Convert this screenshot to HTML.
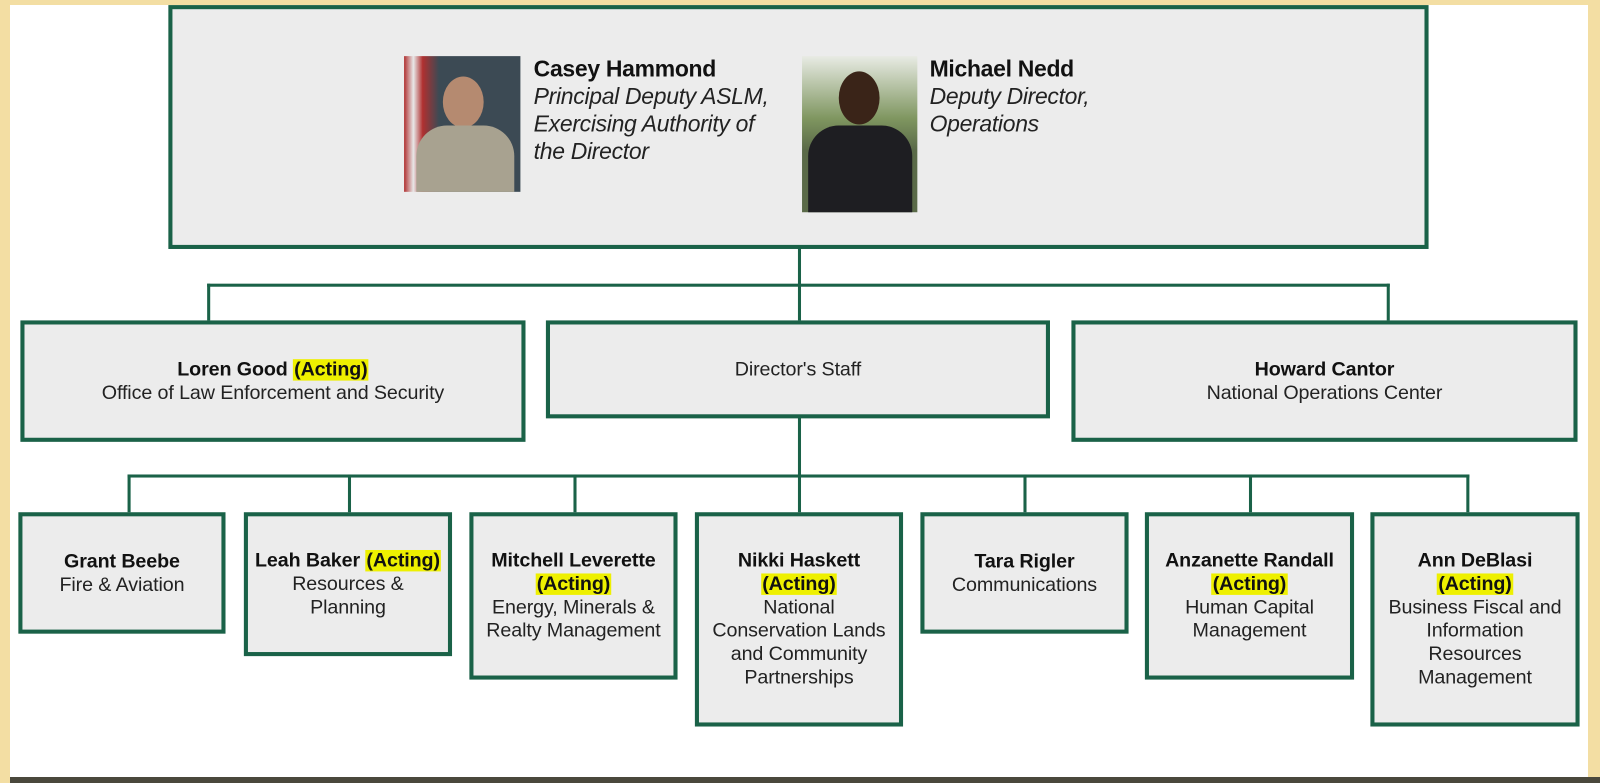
<!DOCTYPE html>
<html><head><meta charset="utf-8"><style>
*{margin:0;padding:0;box-sizing:border-box}
body{width:1600px;height:783px;background:#f3dea3;position:relative;overflow:hidden;font-family:"Liberation Sans",sans-serif;}
#w{position:absolute;left:10px;top:5px;width:1578px;height:772px;background:#fff}
#bar{position:absolute;left:10px;top:777px;width:1590px;height:6px;background:#4a483c}
#c{position:absolute;left:0;top:0;width:1568px;height:767px;transform:scale(1.0204);transform-origin:0 0}
.b{position:absolute;background:#ececec;border:4px solid #1a6248;display:flex;flex-direction:column;align-items:center;justify-content:center;text-align:center;font-size:19.3px;line-height:23px;color:#222;letter-spacing:-0.1px}
.b b{font-weight:bold;color:#111}
.h{background:#eef000;padding:0 1px}
.l{position:absolute;background:#1a6248}
.ph{position:absolute}
.t{position:absolute;font-size:22.5px;line-height:27px;color:#222;letter-spacing:-0.3px}
.t b{color:#111}
.t i{display:block}
</style></head><body>
<div id="w"></div><div id="bar"></div>
<div id="c">
<div class="b" style="left:165px;top:5px;width:1235px;height:239px"></div>
<div class="ph" style="left:396px;top:55px;width:114px;height:133px;background:linear-gradient(90deg,#b03030 0,#e8e8e8 8%,#b03030 16%,#3c4a54 30%,#3c4a54 100%)">
<div style="position:absolute;left:38px;top:20px;width:40px;height:50px;border-radius:50%;background:#b58a70"></div>
<div style="position:absolute;left:12px;top:68px;width:96px;height:65px;border-radius:30px 30px 0 0;background:#a8a290"></div></div>
<div class="ph" style="left:786px;top:55px;width:113px;height:153px;background:linear-gradient(180deg,#e8ebe4 0,#7f9660 40%,#5a6a48 60%)">
<div style="position:absolute;left:36px;top:15px;width:40px;height:52px;border-radius:50%;background:#3a2418"></div>
<div style="position:absolute;left:6px;top:68px;width:102px;height:85px;border-radius:30px 30px 0 0;background:#1e1e22"></div></div>
<div class="t" style="left:523px;top:54px"><b>Casey Hammond</b><i>Principal Deputy ASLM,</i><i>Exercising Authority of</i><i>the Director</i></div>
<div class="t" style="left:911px;top:54px"><b>Michael Nedd</b><i>Deputy Director,</i><i>Operations</i></div>

<div class="l" style="left:782px;top:243px;width:3px;height:72px"></div>
<div class="l" style="left:203px;top:278px;width:1159px;height:3px"></div>
<div class="l" style="left:203px;top:278px;width:3px;height:37px"></div>
<div class="l" style="left:1359px;top:278px;width:3px;height:37px"></div>

<div class="b" style="left:20px;top:314px;width:495px;height:119px"><div><b>Loren Good <span class="h">(Acting)</span></b></div><div>Office of Law Enforcement and Security</div></div>
<div class="b" style="left:535px;top:314px;width:494px;height:96px"><div>Director's Staff</div></div>
<div class="b" style="left:1050px;top:314px;width:496px;height:119px"><div><b>Howard Cantor</b></div><div>National Operations Center</div></div>

<div class="l" style="left:782px;top:409px;width:3px;height:57px"></div>
<div class="l" style="left:125px;top:465px;width:1315px;height:3px"></div>
<div class="l" style="left:125px;top:465px;width:3px;height:38px"></div>
<div class="l" style="left:341px;top:465px;width:3px;height:38px"></div>
<div class="l" style="left:562px;top:465px;width:3px;height:38px"></div>
<div class="l" style="left:782px;top:465px;width:3px;height:38px"></div>
<div class="l" style="left:1003px;top:465px;width:3px;height:38px"></div>
<div class="l" style="left:1224px;top:465px;width:3px;height:38px"></div>
<div class="l" style="left:1437px;top:465px;width:3px;height:38px"></div>

<div class="b" style="left:18px;top:502px;width:203px;height:119px"><div><b>Grant Beebe</b></div><div>Fire &amp; Aviation</div></div>
<div class="b" style="left:239px;top:502px;width:204px;height:141px"><div><b>Leah Baker <span class="h">(Acting)</span></b></div><div>Resources &amp;<br>Planning</div></div>
<div class="b" style="left:460px;top:502px;width:204px;height:164px"><div><b>Mitchell Leverette</b></div><div><b class="h">(Acting)</b></div><div>Energy, Minerals &amp;<br>Realty Management</div></div>
<div class="b" style="left:681px;top:502px;width:204px;height:210px"><div><b>Nikki Haskett</b></div><div><b class="h">(Acting)</b></div><div>National<br>Conservation Lands<br>and Community<br>Partnerships</div></div>
<div class="b" style="left:902px;top:502px;width:204px;height:119px"><div><b>Tara Rigler</b></div><div>Communications</div></div>
<div class="b" style="left:1122px;top:502px;width:205px;height:164px"><div><b>Anzanette Randall</b></div><div><b class="h">(Acting)</b></div><div>Human Capital<br>Management</div></div>
<div class="b" style="left:1343px;top:502px;width:205px;height:210px"><div><b>Ann DeBlasi</b></div><div><b class="h">(Acting)</b></div><div>Business Fiscal and<br>Information<br>Resources<br>Management</div></div>
</div>
</body></html>
